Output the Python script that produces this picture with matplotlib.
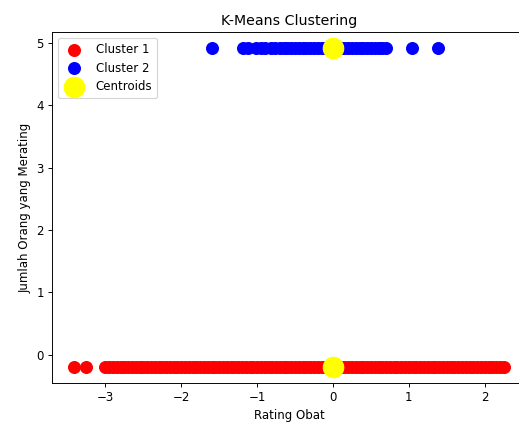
import matplotlib
matplotlib.use("Agg")
import matplotlib.pyplot as plt
import numpy as np

# standardized rating values
cluster1_x = [-3.42, -3.26,
	-3.00, -2.95, -2.90, -2.85, -2.80, -2.75, -2.70, -2.65, -2.60, -2.55,
	-2.50, -2.45, -2.40, -2.35, -2.30, -2.25, -2.20, -2.15, -2.10, -2.05,
	-2.00, -1.95, -1.90, -1.85, -1.80, -1.75, -1.70, -1.65, -1.60, -1.55,
	-1.50, -1.45, -1.40, -1.35, -1.30, -1.25, -1.20, -1.15, -1.10, -1.05,
	-1.00, -0.95, -0.90, -0.85, -0.80, -0.75, -0.70, -0.65, -0.60, -0.55,
	-0.50, -0.45, -0.40, -0.35, -0.30, -0.25, -0.20, -0.15, -0.10, -0.05,
	0.00, 0.05, 0.10, 0.15, 0.20, 0.25, 0.30, 0.35, 0.40, 0.45,
	0.50, 0.55, 0.60, 0.65, 0.70, 0.75, 0.80, 0.85, 0.90, 0.95,
	1.00, 1.05, 1.10, 1.15, 1.20, 1.25, 1.30, 1.35, 1.40, 1.45,
	1.50, 1.55, 1.60, 1.65, 1.70, 1.75, 1.80, 1.85, 1.90, 1.95,
	2.00, 2.05, 2.10, 2.15, 2.20, 2.26]
cluster1_y = [-0.2] * len(cluster1_x)

cluster2_x = [-1.59, -1.18, -1.12, -1.02, -0.95, -0.89, -0.82, -0.76, -0.70,
	-0.65, -0.60, -0.55, -0.50, -0.45, -0.40, -0.35, -0.30, -0.25, -0.20,
	-0.15, -0.10, -0.05, 0.00, 0.05, 0.10, 0.15, 0.20, 0.25, 0.30,
	0.35, 0.40, 0.45, 0.50, 0.55, 0.60, 0.65, 0.70, 1.04, 1.38]
cluster2_y = [4.92] * len(cluster2_x)

centroid_x = [0.0, 0.0]
centroid_y = [-0.2, 4.92]

dpi = 85
fig = plt.figure(figsize=(519/dpi, 428/dpi), dpi=dpi)
ax = fig.add_axes([52/519., 45/428., 474/519., 351/428.])

ax.scatter(cluster1_x, cluster1_y, s=100, c='red', label='Cluster 1')
ax.scatter(cluster2_x, cluster2_y, s=100, c='blue', label='Cluster 2')
ax.scatter(centroid_x, centroid_y, s=300, c='yellow', label='Centroids')

ax.set_title('K-Means Clustering')
ax.set_xlabel('Rating Obat')
ax.set_ylabel('Jumlah Orang yang Merating')
ax.legend(loc='upper left')

fig.savefig('out.png', dpi=dpi)
